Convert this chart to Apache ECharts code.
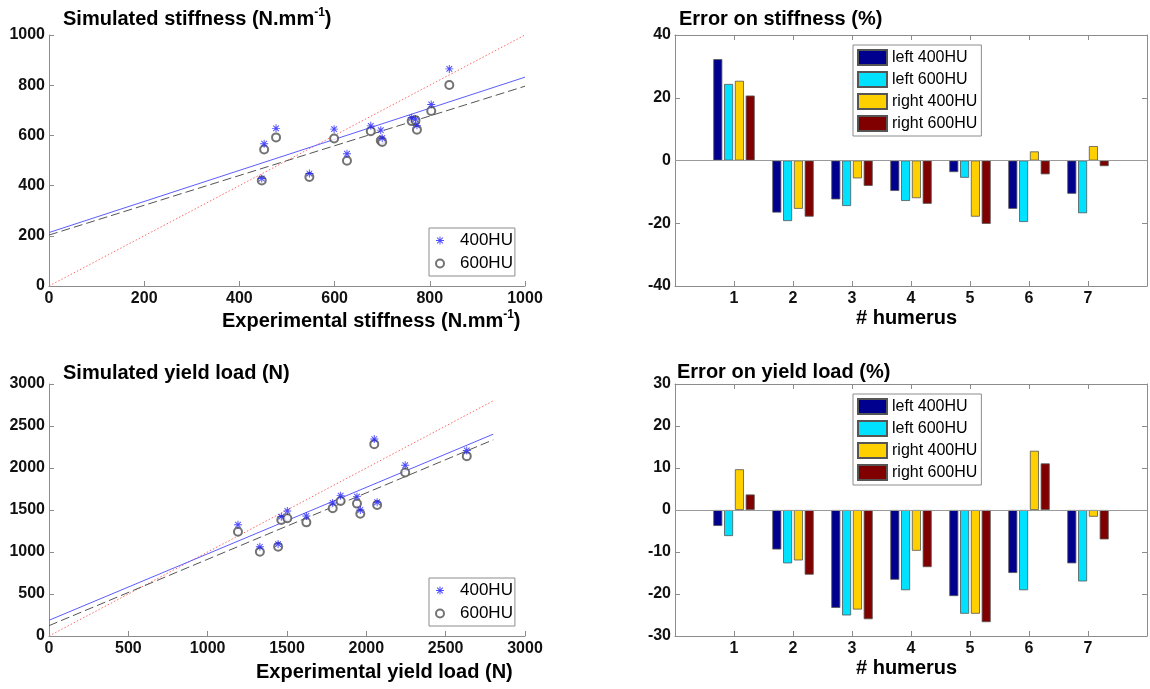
<!DOCTYPE html>
<html>
<head>
<meta charset="utf-8">
<script src="https://cdn.jsdelivr.net/npm/echarts@6/dist/echarts.min.js"></script>
<style>
html,body{margin:0;padding:0;background:#fff;}
#chart{width:1150px;height:689px;}
</style>
</head>
<body>
<div id="chart"></div>
<script>
// ---------- data ----------
// Stiffness scatter (N/mm)
const expStiffness   = [447, 452, 477, 547, 599, 626, 676, 697, 700, 762, 770, 773, 803, 841];
const sim400Stiffness= [428, 567, 628, 448, 625, 527, 638, 621, 589, 670, 665, 640, 723, 865];
const sim600Stiffness= [420, 544, 592, 434, 588, 499, 617, 580, 574, 657, 660, 623, 697, 801];
const fit400Stiffness = [[0, 213], [1000, 832]];
const fit600Stiffness = [[0, 203], [1000, 796]];
const identityStiffness = [[0, 0], [1000, 1000]];

// Yield load scatter (N)
const expYield   = [1191, 1329, 1444, 1464, 1502, 1622, 1788, 1838, 1941, 1962, 2050, 2068, 2245, 2633];
const sim400Yield= [1325, 1062, 1094, 1421, 1488, 1429, 1584, 1671, 1659, 1500, 2344, 1592, 2033, 2208];
const sim600Yield= [1242, 1003, 1062, 1381, 1401, 1353, 1520, 1608, 1576, 1456, 2284, 1560, 1946, 2141];
const fit400Yield = [[0, 187], [2800, 2403]];
const fit600Yield = [[0, 123], [2800, 2336]];
const identityYield = [[0, 0], [2800, 2800]];

// Error bars (%)
const humerus = [1, 2, 3, 4, 5, 6, 7];
const barNames = ['left 400HU', 'left 600HU', 'right 400HU', 'right 600HU'];
const errStiffLeft400  = [32.3, -16.6, -12.4, -9.7, -3.7, -15.4, -10.6];
const errStiffLeft600  = [24.4, -19.3, -14.5, -12.9, -5.5, -19.6, -16.8];
const errStiffRight400 = [25.4, -15.4, -5.7, -12.0, -17.9, 2.9, 4.6];
const errStiffRight600 = [20.7, -17.9, -8.1, -13.8, -20.2, -4.4, -1.8];
const errYieldLeft400  = [-3.8, -9.4, -23.3, -16.6, -20.5, -15.0, -12.7];
const errYieldLeft600  = [-6.2, -12.7, -25.1, -19.1, -24.7, -19.1, -17.0];
const errYieldRight400 = [9.7, -12.0, -23.7, -9.7, -24.7, 14.1, -1.6];
const errYieldRight600 = [3.7, -15.4, -26.0, -13.6, -26.7, 11.1, -7.0];

const barColors = ['#00008f', '#00e0ff', '#ffd000', '#800000'];

// ---------- chart ----------
const FONT = 'Liberation Sans, Arial, sans-serif';
const chart = echarts.init(document.getElementById('chart'), null, {renderer: 'canvas'});

const richT = {
  t: {fontSize: 20, fontWeight: 'bold', fontFamily: FONT, color: '#000', lineHeight: 24},
  s: {fontSize: 12, fontWeight: 'bold', fontFamily: FONT, color: '#000', lineHeight: 12, verticalAlign: 'top'}
};
function ttl(text, left, top) {
  return {text: text, left: left, top: top, padding: 0,
          textStyle: {rich: richT, fontSize: 20, fontWeight: 'bold', fontFamily: FONT}};
}

const axisLineStyle = {color: '#8c8c8c', width: 1};
const labelStyle = {color: '#111', fontSize: 16, fontWeight: 'bold', fontFamily: FONT};
const plain = function (v) { return String(v); };

function valX(grid, min, max, interval, extra) {
  return Object.assign({
    type: 'value', gridIndex: grid, min: min, max: max, interval: interval,
    axisLine: {show: true, onZero: false, lineStyle: axisLineStyle},
    axisTick: {show: true, inside: true, length: 5, lineStyle: axisLineStyle},
    axisLabel: Object.assign({margin: 5, formatter: plain}, labelStyle),
    splitLine: {show: false}
  }, extra || {});
}
function valY(grid, min, max, interval, extra) {
  return Object.assign({
    type: 'value', gridIndex: grid, min: min, max: max, interval: interval,
    axisLine: {show: true, onZero: false, lineStyle: axisLineStyle},
    axisTick: {show: true, inside: true, length: 5, lineStyle: axisLineStyle},
    axisLabel: Object.assign({margin: 4, formatter: plain}, labelStyle),
    splitLine: {show: false}
  }, extra || {});
}
const hideEnds = function (v) { return (v === 0 || v === 8) ? '' : String(v); };

const asterisk = 'path://M-0.12,-1 L0.12,-1 L0.12,1 L-0.12,1 Z M-1,-0.12 L1,-0.12 L1,0.12 L-1,0.12 Z M-0.79,-0.62 L-0.62,-0.79 L0.79,0.62 L0.62,0.79 Z M0.62,-0.79 L0.79,-0.62 L-0.62,0.79 L-0.79,0.62 Z';

function scatterSeries(xIdx, yIdx, xs, y400, y600, f400, f600, ident) {
  return [
    {type: 'line', name: 'id' + xIdx, xAxisIndex: xIdx, yAxisIndex: yIdx, data: ident,
     showSymbol: false, symbol: 'none', lineStyle: {color: '#ff6a6a', width: 1, type: [1.5, 2]}, z: 1, silent: true},
    {type: 'line', name: 'f600' + xIdx, xAxisIndex: xIdx, yAxisIndex: yIdx, data: f600,
     showSymbol: false, symbol: 'none', lineStyle: {color: '#555', width: 1, type: [9, 4]}, z: 2, silent: true},
    {type: 'line', name: 'f400' + xIdx, xAxisIndex: xIdx, yAxisIndex: yIdx, data: f400,
     showSymbol: false, symbol: 'none', lineStyle: {color: '#5c5cff', width: 1}, z: 3, silent: true},
    {type: 'scatter', name: '600HU', xAxisIndex: xIdx, yAxisIndex: yIdx,
     data: xs.map((x, i) => [x, y600[i]]), symbol: 'emptyCircle', symbolSize: 8,
     itemStyle: {color: '#505050', borderWidth: 1}, z: 4},
    {type: 'scatter', name: '400HU', xAxisIndex: xIdx, yAxisIndex: yIdx,
     data: xs.map((x, i) => [x, y400[i]]), symbol: asterisk, symbolSize: 8,
     itemStyle: {color: '#2020ff'}, z: 5}
  ];
}

function barSeries(xIdx, yIdx, arrays) {
  return arrays.map((arr, k) => {
    const s = {
      type: 'bar', name: barNames[k], xAxisIndex: xIdx, yAxisIndex: yIdx,
      data: humerus.map((h, i) => [h, arr[i]]),
      barWidth: 9, barGap: '20%',
      itemStyle: {color: barColors[k], borderColor: '#555', borderWidth: 0.8}
    };
    if (k === 0) {
      s.markLine = {silent: true, symbol: 'none', label: {show: false}, animation: false,
        lineStyle: {color: '#9a9a9a', type: 'solid', width: 1.2}, data: [{yAxis: 0}]};
    }
    return s;
  });
}

const legendBase = {
  orient: 'vertical', borderColor: '#8c8c8c', borderWidth: 1, borderRadius: 0,
  backgroundColor: '#fff', selectedMode: false
};
const scatterLegend = {
  data: ['400HU', '600HU'], left: 429,
  itemWidth: 30, itemHeight: 8, itemGap: 4, padding: [3, 2, 3, 6],
  textStyle: {fontSize: 17, fontFamily: FONT, color: '#000', lineHeight: 19}
};
const barLegend = {
  data: barNames.map(n => ({name: n, icon: 'rect'})), left: 853,
  itemWidth: 29, itemHeight: 15, itemGap: 5, padding: [4, 4, 4, 4],
  textStyle: {fontSize: 16, fontFamily: FONT, color: '#000', lineHeight: 16}
};

const option = {
  animation: false,
  backgroundColor: '#fff',
  title: [
    ttl('{t|Simulated stiffness (N.mm}{s|-1}{t|)}', 63, 7),
    ttl('{t|Experimental stiffness (N.mm}{s|-1}{t|)}', 222, 309),
    ttl('{t|Error on stiffness (%)}', 679, 7),
    ttl('{t|# humerus}', 856, 306),
    ttl('{t|Simulated yield load (N)}', 63, 361),
    ttl('{t|Experimental yield load (N)}', 256, 660),
    ttl('{t|Error on yield load (%)}', 677, 360),
    ttl('{t|# humerus}', 856, 656)
  ],
  grid: [
    {left: 49, top: 35, width: 476, height: 251},
    {left: 675, top: 35, width: 480, height: 251},
    {left: 49, top: 384, width: 476, height: 252},
    {left: 675, top: 384, width: 480, height: 252}
  ],
  xAxis: [
    valX(0, 0, 1000, 200),
    valX(1, 0, 8, 1, {axisLabel: Object.assign({margin: 5, formatter: hideEnds}, labelStyle)}),
    valX(1, 0, 8, 1, {position: 'top', axisLabel: {show: false}}),
    valX(2, 0, 3000, 500),
    valX(3, 0, 8, 1, {axisLabel: Object.assign({margin: 5, formatter: hideEnds}, labelStyle)}),
    valX(3, 0, 8, 1, {position: 'top', axisLabel: {show: false}})
  ],
  yAxis: [
    valY(0, 0, 1000, 200),
    valY(1, -40, 40, 20),
    valY(1, -40, 40, 20, {position: 'right', axisLabel: {show: false}}),
    valY(2, 0, 3000, 500),
    valY(3, -30, 30, 10),
    valY(3, -30, 30, 10, {position: 'right', axisLabel: {show: false}})
  ],
  legend: [
    Object.assign({}, legendBase, scatterLegend, {top: 228}),
    Object.assign({}, legendBase, scatterLegend, {top: 578}),
    Object.assign({}, legendBase, barLegend, {top: 45}),
    Object.assign({}, legendBase, barLegend, {top: 394})
  ],
  series: [].concat(
    scatterSeries(0, 0, expStiffness, sim400Stiffness, sim600Stiffness, fit400Stiffness, fit600Stiffness, identityStiffness),
    barSeries(1, 1, [errStiffLeft400, errStiffLeft600, errStiffRight400, errStiffRight600]),
    scatterSeries(3, 3, expYield, sim400Yield, sim600Yield, fit400Yield, fit600Yield, identityYield),
    barSeries(4, 4, [errYieldLeft400, errYieldLeft600, errYieldRight400, errYieldRight600])
  )
};
chart.setOption(option);
</script>
</body>
</html>
